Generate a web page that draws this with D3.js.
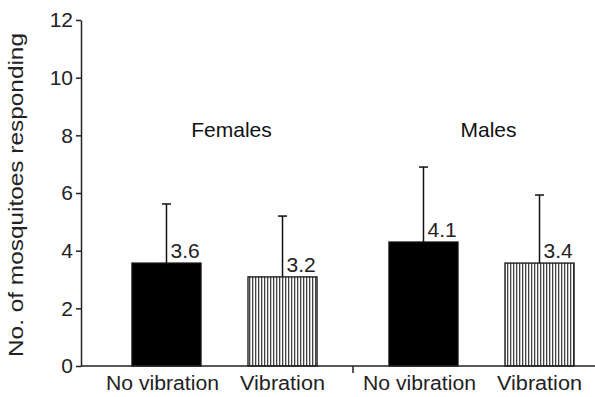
<!DOCTYPE html>
<html>
<head>
<meta charset="utf-8">
<script src="https://cdn.jsdelivr.net/npm/d3@7"></script>
<style>
  body { margin: 0; background: #fff; }
  svg { display: block; font-family: "Liberation Sans", Arial, sans-serif; }
</style>
</head>
<body>
<svg id="chart" width="595" height="397"></svg>
<script>
const groups = ["Females", "Males"];
const conditions = ["No vibration", "Vibration"];
const femaleMeans = [3.57, 3.09];
const maleMeans = [4.3, 3.57];
const femaleErrors = [2.05, 2.11];
const maleErrors = [2.6, 2.36];
const femaleLabels = ["3.6", "3.2"];
const maleLabels = ["4.1", "3.4"];
const yTicks = [0, 2, 4, 6, 8, 10, 12];

const W = 595, H = 397;
const AXIS_X = 81;

const bars = [];
[[femaleMeans, femaleErrors, femaleLabels], [maleMeans, maleErrors, maleLabels]]
  .forEach(([means, errs, labels], gi) => {
    conditions.forEach((c, ci) => {
      bars.push({ group: groups[gi], cond: c, mean: means[ci], err: errs[ci], label: labels[ci] });
    });
  });

const svg = d3.select("#chart");

const defs = svg.append("defs");
const pat = defs.append("pattern")
  .attr("id", "stripes")
  .attr("patternUnits", "userSpaceOnUse")
  .attr("width", 3)
  .attr("height", 10);
pat.append("rect").attr("width", 3).attr("height", 10).attr("fill", "#fff");
pat.append("rect").attr("x", 0).attr("width", 1.3).attr("height", 10).attr("fill", "#444");

const y = d3.scaleLinear().domain([0, 12]).range([366, 20]);

const x0 = d3.scaleBand().domain(groups).range([96, 610]);
const x1 = d3.scaleBand().domain(conditions)
  .range([0, x0.bandwidth()])
  .paddingInner(0.405)
  .paddingOuter(0.31);

// bars
svg.append("g").selectAll("rect")
  .data(bars)
  .join("rect")
  .attr("x", d => x0(d.group) + x1(d.cond))
  .attr("y", d => y(d.mean))
  .attr("width", x1.bandwidth())
  .attr("height", d => y(0) - y(d.mean))
  .attr("fill", d => d.cond === "Vibration" ? "url(#stripes)" : "#000")
  .attr("stroke", "#111")
  .attr("stroke-width", 1.3);

// error bars
const cx = d => x0(d.group) + x1(d.cond) + x1.bandwidth() / 2;
const eb = svg.append("g").attr("stroke", "#111").attr("stroke-width", 1.5);
eb.selectAll("line.v")
  .data(bars)
  .join("line")
  .attr("class", "v")
  .attr("x1", cx).attr("x2", cx)
  .attr("y1", d => y(d.mean))
  .attr("y2", d => y(d.mean + d.err));
eb.selectAll("line.cap")
  .data(bars)
  .join("line")
  .attr("class", "cap")
  .attr("x1", d => cx(d) - 4.5).attr("x2", d => cx(d) + 4.5)
  .attr("y1", d => y(d.mean + d.err))
  .attr("y2", d => y(d.mean + d.err));

// value labels
svg.append("g").selectAll("text")
  .data(bars)
  .join("text")
  .attr("x", d => cx(d) + 4)
  .attr("y", d => y(d.mean) - 5)
  .attr("font-size", 21)
  .attr("fill", "#222")
  .text(d => d.label);

// group labels
svg.append("g").selectAll("text")
  .data(groups)
  .join("text")
  .attr("x", d => x0(d) + x0.bandwidth() / 2 + 7)
  .attr("y", 137)
  .attr("text-anchor", "middle")
  .attr("font-size", 21)
  .attr("fill", "#111")
  .text(d => d);

// y axis
const yAxis = svg.append("g")
  .attr("transform", `translate(${AXIS_X},0)`)
  .call(d3.axisLeft(y).tickValues(yTicks).tickSize(5).tickSizeOuter(0).tickPadding(3));
yAxis.select(".domain").attr("stroke", "#222").attr("stroke-width", 1.5);
yAxis.selectAll(".tick line").attr("stroke", "#222").attr("stroke-width", 1.5);
yAxis.selectAll(".tick text")
  .attr("font-size", 21)
  .attr("fill", "#222")
  .attr("font-family", "'Liberation Sans', Arial, sans-serif");

// x axis line
svg.append("line")
  .attr("x1", AXIS_X).attr("x2", W)
  .attr("y1", y(0)).attr("y2", y(0))
  .attr("stroke", "#222")
  .attr("stroke-width", 1.5);

// group divider tick
svg.append("line")
  .attr("x1", x0("Males")).attr("x2", x0("Males"))
  .attr("y1", y(0)).attr("y2", y(0) + 7)
  .attr("stroke", "#222")
  .attr("stroke-width", 1.5);

// x category labels
svg.append("g").selectAll("text")
  .data(bars)
  .join("text")
  .attr("x", d => cx(d) - (d.cond === "No vibration" ? 4 : 0))
  .attr("y", 390)
  .attr("text-anchor", "middle")
  .attr("font-size", 20)
  .attr("fill", "#222")
  .attr("textLength", d => d.cond === "No vibration" ? 113 : 85)
  .attr("lengthAdjust", "spacingAndGlyphs")
  .text(d => d.cond);

// y axis title
svg.append("text")
  .attr("transform", "rotate(-90)")
  .attr("x", -195)
  .attr("y", 23)
  .attr("text-anchor", "middle")
  .attr("font-size", 21)
  .attr("fill", "#222")
  .attr("textLength", 324)
  .attr("lengthAdjust", "spacingAndGlyphs")
  .text("No. of mosquitoes responding");
</script>
</body>
</html>
